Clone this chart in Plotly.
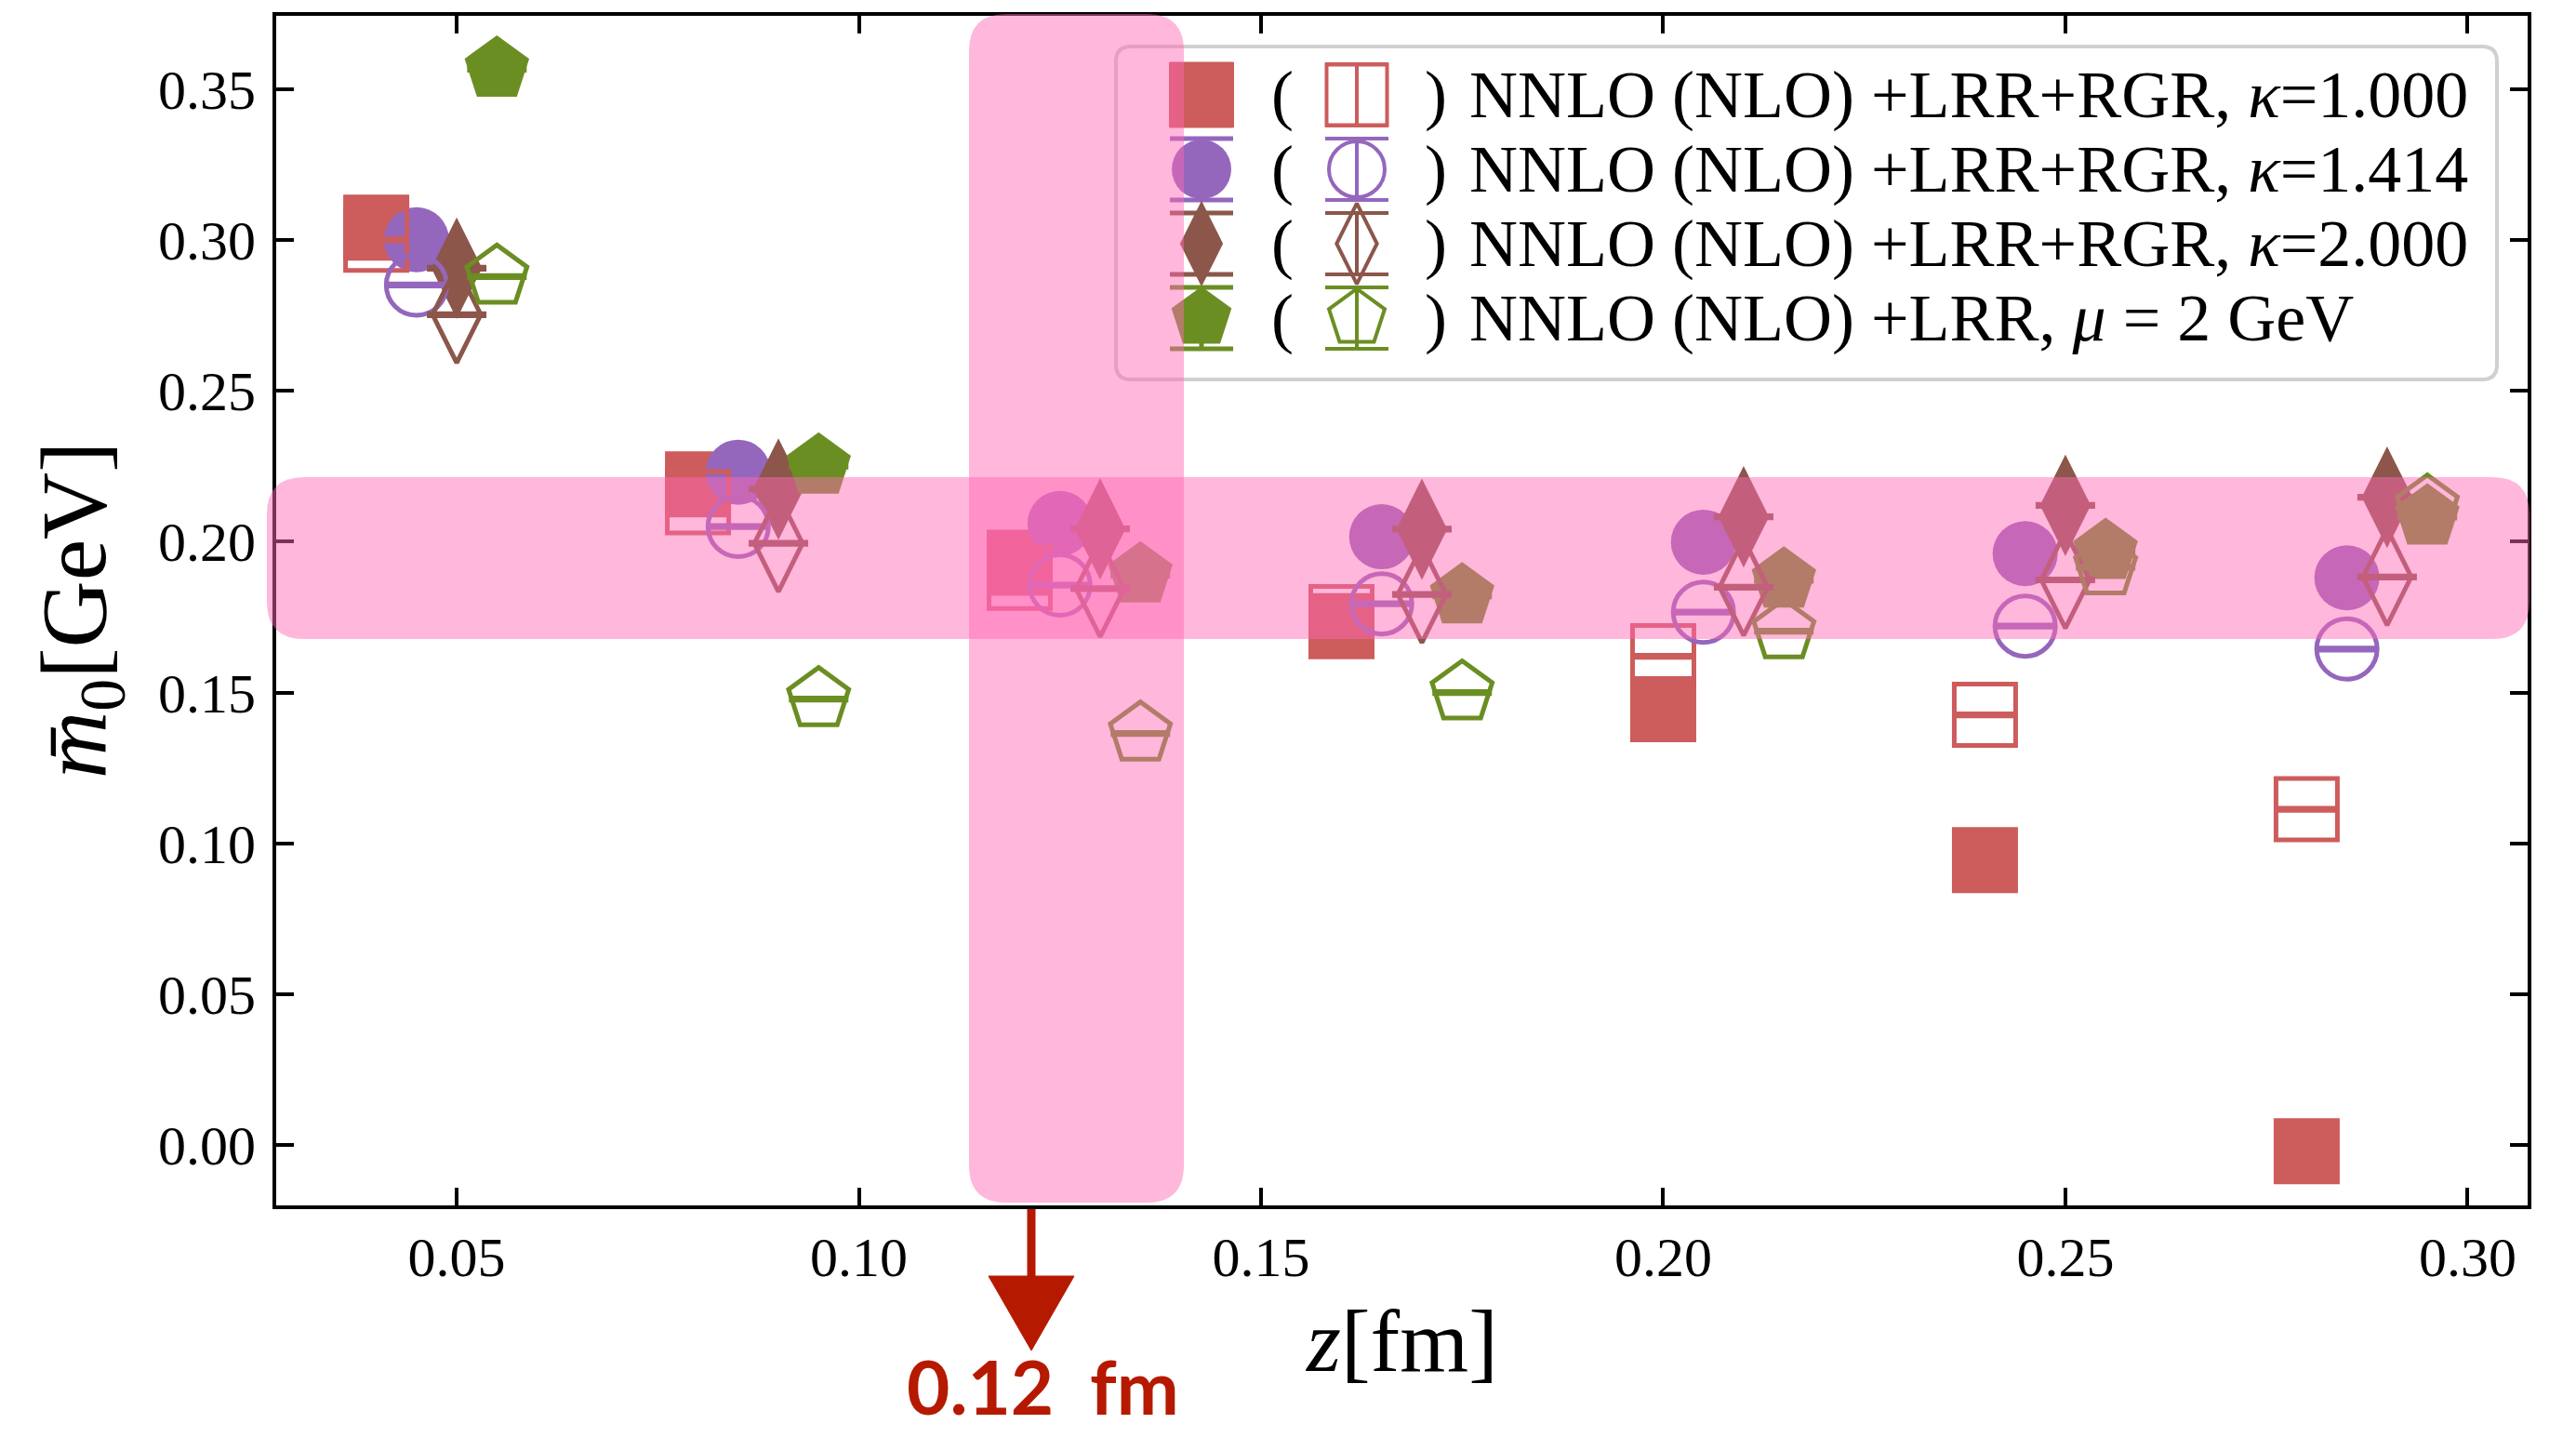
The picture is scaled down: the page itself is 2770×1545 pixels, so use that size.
import plotly.graph_objects as go

# ---------------- data ----------------
z_fm = [0.04, 0.08, 0.12, 0.16, 0.20, 0.24, 0.28]
# horizontal display shift of each series (fm)
shift_k1000, shift_k1414, shift_k2000, shift_mu2 = 0.0, 0.005, 0.010, 0.015

m0_nnlo_k1000 = [0.304, 0.219, 0.193, 0.172, 0.1445, 0.0945, -0.002]
m0_nlo_k1000 = [0.300, 0.213, 0.188, 0.175, 0.162, 0.1426, 0.1113]
m0_nnlo_k1414 = [0.300, 0.223, 0.206, 0.2016, 0.1998, 0.196, 0.188]
m0_nlo_k1414 = [0.285, 0.205, 0.1856, 0.1794, 0.1766, 0.172, 0.1644]
m0_nnlo_k2000 = [0.2906, 0.2174, 0.2042, 0.2041, 0.2082, 0.212, 0.2147]
m0_nlo_k2000 = [0.2752, 0.1994, 0.1844, 0.1825, 0.1849, 0.1873, 0.1883]
m0_nnlo_mu2 = [0.3565, 0.225, 0.1889, 0.182, 0.1872, 0.1967, 0.2081]
m0_nlo_mu2 = [0.2878, 0.1478, 0.1364, 0.150, 0.1703, 0.1915, 0.2116]
m0_err = [0.0005, 0.0005, 0.0005, 0.0005, 0.0005, 0.0005, 0.0005]

legend_labels = [
    "NNLO (NLO) +LRR+RGR, <i>κ</i>=1.000",
    "NNLO (NLO) +LRR+RGR, <i>κ</i>=1.414",
    "NNLO (NLO) +LRR+RGR, <i>κ</i>=2.000",
    "NNLO (NLO) +LRR, <i>μ</i> = 2 GeV",
]
x_ticks = [0.05, 0.10, 0.15, 0.20, 0.25, 0.30]
y_ticks = [0.00, 0.05, 0.10, 0.15, 0.20, 0.25, 0.30, 0.35]

# ---------------- layout geometry ----------------
W, H = 2770, 1545
PL, PR, PT, PB = 297, 2718, 17, 1296
SERIF = "Liberation Serif"
RED = "#B51A00"


def px(xp):
    return (xp - PL) / (PR - PL)


def py(yp):
    return (PB - yp) / (PB - PT)


def rounded_rect(x0p, y0p, x1p, y1p, r):
    # pixel box -> paper path with rounded corners
    X0, X1 = px(x0p), px(x1p)
    Yt, Yb = py(y0p), py(y1p)
    rx = r / (PR - PL)
    ry = r / (PB - PT)
    return (f"M{X0+rx},{Yb} L{X1-rx},{Yb} Q{X1},{Yb} {X1},{Yb+ry} "
            f"L{X1},{Yt-ry} Q{X1},{Yt} {X1-rx},{Yt} L{X0+rx},{Yt} "
            f"Q{X0},{Yt} {X0},{Yt-ry} L{X0},{Yb+ry} Q{X0},{Yb} {X0+rx},{Yb} Z")


series = [
    ("square", "#CD5C5C", shift_k1000, m0_nnlo_k1000, m0_nlo_k1000, 71, 66),
    ("circle", "#9467BD", shift_k1414, m0_nnlo_k1414, m0_nlo_k1414, 70, 65),
    ("diamond-tall", "#8C564B", shift_k2000, m0_nnlo_k2000, m0_nlo_k2000, 78, 74),
    ("pentagon", "#6B8E23", shift_mu2, m0_nnlo_mu2, m0_nlo_mu2, 73, 68),
]

fig = go.Figure()

# filled (NNLO) first, then open (NLO)
for sym, col, sh, nnlo, nlo, s_f, s_o in series:
    fig.add_trace(go.Scatter(
        x=[z + sh for z in z_fm], y=nnlo, mode="markers",
        marker=dict(symbol=sym, size=s_f, color=col, line=dict(width=0)),
        error_y=dict(type="data", array=m0_err, color=col, thickness=4, width=32),
        showlegend=False, cliponaxis=False))
for sym, col, sh, nnlo, nlo, s_f, s_o in series:
    fig.add_trace(go.Scatter(
        x=[z + sh for z in z_fm], y=nlo, mode="markers",
        marker=dict(symbol=sym + "-open", size=s_o, color=col, line=dict(width=5, color=col)),
        error_y=dict(type="data", array=m0_err, color=col, thickness=4, width=32),
        showlegend=False, cliponaxis=False))

# ---------------- hand-made legend (overlay axes in pixel units) ----------------
leg_rows = [102, 182, 262, 342]
leg_x_filled, leg_x_open = 1292, 1459
leg_sizes = [(70, 65), (64, 60), (66, 62), (68, 63)]
for (sym, col, sh, nnlo, nlo, s_f, s_o), yrow, (lf, lo) in zip(series, leg_rows, leg_sizes):
    fig.add_trace(go.Scatter(
        x=[leg_x_filled], y=[yrow], xaxis="x2", yaxis="y2", mode="markers",
        marker=dict(symbol=sym, size=lf, color=col, line=dict(width=0)),
        error_y=dict(type="data", array=[33], color=col, thickness=5, width=34),
        showlegend=False, hoverinfo="skip"))
    fig.add_trace(go.Scatter(
        x=[leg_x_open], y=[yrow], xaxis="x2", yaxis="y2", mode="markers",
        marker=dict(symbol=sym + "-open", size=lo, color=col, line=dict(width=4, color=col)),
        error_y=dict(type="data", array=[33], color=col, thickness=4, width=34),
        showlegend=False, hoverinfo="skip"))

annotations = []
for lab, yrow in zip(legend_labels, leg_rows):
    annotations.append(dict(x=px(1379), y=py(yrow), xref="paper", yref="paper", text="(",
                            showarrow=False, xanchor="center", yanchor="middle",
                            font=dict(family=SERIF, size=72, color="black")))
    annotations.append(dict(x=px(1544), y=py(yrow), xref="paper", yref="paper", text=")",
                            showarrow=False, xanchor="center", yanchor="middle",
                            font=dict(family=SERIF, size=72, color="black")))
    annotations.append(dict(x=px(1578), y=py(yrow), xref="paper", yref="paper", text=lab,
                            showarrow=False, xanchor="left", yanchor="middle",
                            font=dict(family=SERIF, size=72, color="black")))

# axis titles
annotations.append(dict(x=px(86), y=py(656), xref="paper", yref="paper",
                        text="<i>m̄</i><sub>0</sub>[GeV]", textangle=-90, showarrow=False,
                        xanchor="center", yanchor="middle",
                        font=dict(family=SERIF, size=100, color="black")))
annotations.append(dict(x=px(1507), y=py(1442), xref="paper", yref="paper",
                        text="<i>z</i>[fm]", showarrow=False,
                        xanchor="center", yanchor="middle",
                        font=dict(family=SERIF, size=95, color="black")))
# highlight label
annotations.append(dict(x=px(1121), y=py(1490), xref="paper", yref="paper",
                        text="<b>0.12  fm</b>", showarrow=False,
                        xanchor="center", yanchor="middle",
                        font=dict(family="Lato", size=80, color=RED)))

shapes = [
    # legend frame
    dict(type="path", xref="paper", yref="paper", layer="below",
         path=rounded_rect(1200, 50, 2685, 408, 16),
         fillcolor="rgba(255,255,255,0.8)", line=dict(color="#D0D0D0", width=4)),
    # pink highlight bands
    dict(type="path", xref="paper", yref="paper", layer="above",
         path=rounded_rect(1042, 15, 1273, 1293, 40),
         fillcolor="rgba(255,105,180,0.48)", line=dict(width=0)),
    dict(type="path", xref="paper", yref="paper", layer="above",
         path=rounded_rect(287, 513, 2720, 687, 40),
         fillcolor="rgba(255,105,180,0.48)", line=dict(width=0)),
    # red arrow
    dict(type="line", xref="paper", yref="paper", layer="above",
         x0=px(1109), x1=px(1109), y0=py(1300), y1=py(1385),
         line=dict(color=RED, width=9)),
    dict(type="path", xref="paper", yref="paper", layer="above",
         path=f"M{px(1063)},{py(1372)} L{px(1155)},{py(1372)} L{px(1109)},{py(1452)} Z",
         fillcolor=RED, line=dict(color=RED, width=1)),
]

axis_common = dict(showline=True, linewidth=4, linecolor="black", mirror="ticks",
                   ticks="inside", ticklen=19, tickwidth=4, tickcolor="black",
                   showgrid=False, zeroline=False,
                   tickfont=dict(family=SERIF, size=60, color="black"))

fig.update_layout(
    width=W, height=H,
    margin=dict(l=PL, r=W - PR, t=PT, b=H - PB, autoexpand=False),
    paper_bgcolor="white", plot_bgcolor="white",
    xaxis=dict(range=[0.02756, 0.30747], tickvals=x_ticks, tickformat=".2f",
               ticklabelstandoff=0, **axis_common),
    yaxis=dict(range=[-0.01994, 0.3742], tickvals=y_ticks, tickformat=".2f",
               ticklabelstandoff=6, **axis_common),
    xaxis2=dict(range=[PL, PR], overlaying="x", anchor="y2", visible=False),
    yaxis2=dict(range=[PB, PT], overlaying="y", anchor="x2", visible=False),
    shapes=shapes, annotations=annotations, showlegend=False,
)

fig.write_html("out.html")
